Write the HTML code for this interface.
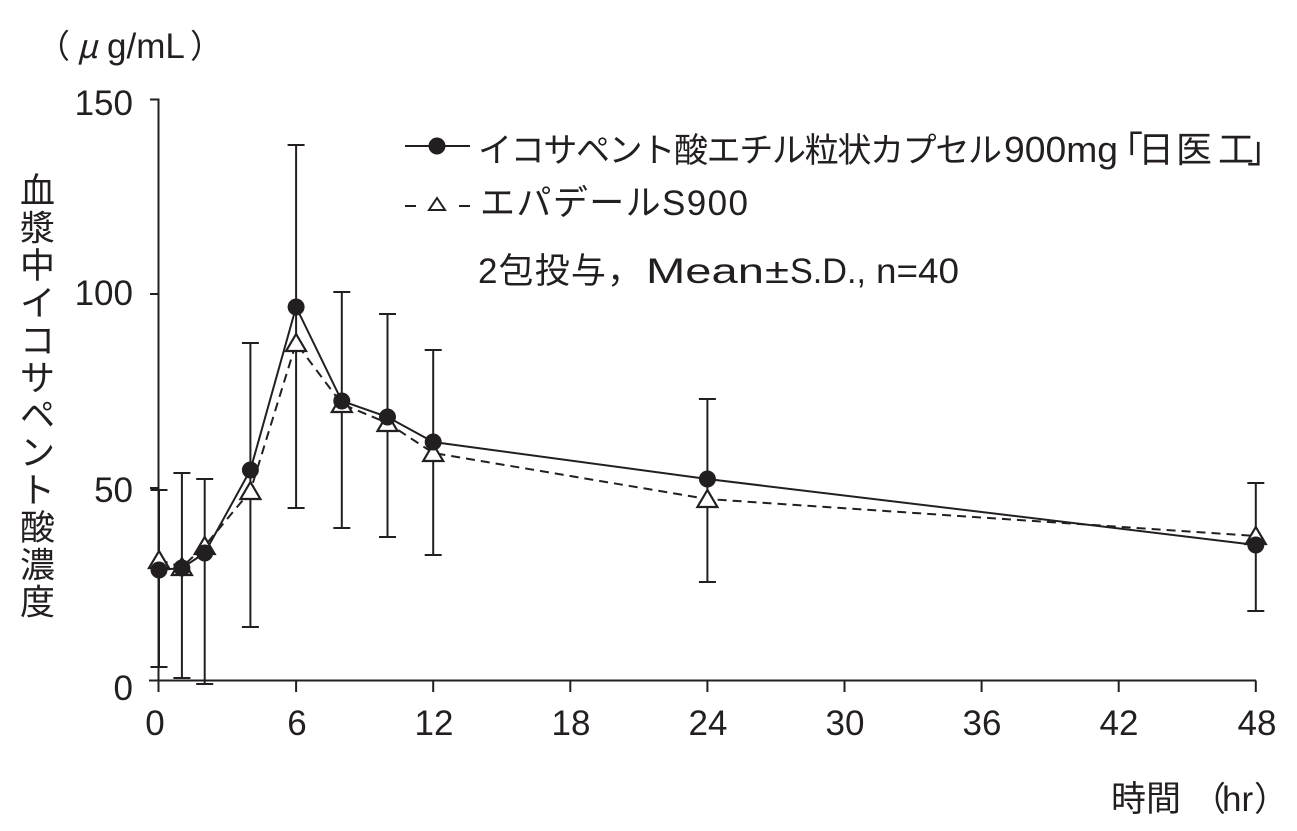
<!DOCTYPE html>
<html><head><meta charset="utf-8">
<style>
html,body{margin:0;padding:0;background:#fff;}
svg{display:block;}
text{fill:#231f20;}
</style></head>
<body>
<svg width="1297" height="831" viewBox="0 0 1297 831" xmlns="http://www.w3.org/2000/svg">
<g font-family="'Liberation Sans','Noto Sans CJK JP',sans-serif">
  <!-- unit label -->
  <text x="37" y="58" font-size="33" font-family="'Noto Sans CJK JP',sans-serif">（</text>
  <text x="77" y="58" font-size="33" font-family="'Noto Sans CJK JP',sans-serif" font-style="italic">μ</text>
  <text x="107" y="58" font-size="35">g/mL</text>
  <text x="190" y="58" font-size="33" font-family="'Noto Sans CJK JP',sans-serif">）</text>

  <!-- y-axis title vertical -->
  <g font-size="35" text-anchor="middle" font-family="'Noto Sans CJK JP',sans-serif">
    <text x="37.5" y="203">血</text>
    <text x="37.5" y="240.7">漿</text>
    <text x="37.5" y="278.1">中</text>
    <text x="37.5" y="315.5">イ</text>
    <text x="37.5" y="352.9">コ</text>
    <text x="37.5" y="390.3">サ</text>
    <text x="37.5" y="427.7">ペ</text>
    <text x="37.5" y="465.1">ン</text>
    <text x="37.5" y="502.5">ト</text>
    <text x="37.5" y="539.9">酸</text>
    <text x="37.5" y="577.3">濃</text>
    <text x="37.5" y="614.7">度</text>
  </g>

  <!-- y tick labels -->
  <g font-size="35" text-anchor="end">
    <text x="133" y="115">150</text>
    <text x="133" y="305">100</text>
    <text x="133" y="502">50</text>
    <text x="133" y="700">0</text>
  </g>

  <!-- x tick labels -->
  <g font-size="35" text-anchor="middle">
    <text x="155" y="735">0</text>
    <text x="297" y="735">6</text>
    <text x="434" y="735">12</text>
    <text x="571" y="735">18</text>
    <text x="708" y="735">24</text>
    <text x="845" y="735">30</text>
    <text x="982" y="735">36</text>
    <text x="1119" y="735">42</text>
    <text x="1257" y="735">48</text>
  </g>

  <!-- x-axis title -->
  <text x="1111" y="811" font-size="35" font-family="'Noto Sans CJK JP',sans-serif">時間</text>
  <text x="1192" y="811" font-size="34" font-family="'Noto Sans CJK JP',sans-serif">（</text>
  <text x="1222" y="811" font-size="35">hr</text>
  <text x="1254" y="811" font-size="34" font-family="'Noto Sans CJK JP',sans-serif">）</text>

  <!-- legend line 1 -->
  <text x="478" y="162" font-size="34" textLength="524" lengthAdjust="spacing">イコサペント酸エチル粒状カプセル</text>
  <text x="1004" y="162" font-size="36" textLength="114" lengthAdjust="spacingAndGlyphs">900mg</text>
  <g font-size="36" font-family="'Noto Sans CJK JP',sans-serif">
    <text x="1107" y="162">「</text>
    <text x="1156" y="162" text-anchor="middle">日</text>
    <text x="1194" y="162" text-anchor="middle">医</text>
    <text x="1236" y="162" text-anchor="middle">工</text>
    <text x="1247" y="162">」</text>
  </g>

  <!-- legend line 2 -->
  <text x="480" y="215" font-size="35" textLength="268" lengthAdjust="spacing">エパデールS900</text>

  <!-- annotation -->
  <text x="478" y="283" font-size="35" textLength="164" lengthAdjust="spacing">2包投与，</text>
  <text x="646" y="283" font-size="35" textLength="118" lengthAdjust="spacingAndGlyphs">Mean</text>
  <text x="765" y="283" font-size="35" textLength="24" lengthAdjust="spacingAndGlyphs">±</text>
  <text x="790" y="283" font-size="35" textLength="76" lengthAdjust="spacingAndGlyphs">S.D.,</text>
  <text x="876" y="283" font-size="35" textLength="83" lengthAdjust="spacingAndGlyphs">n=40</text>
</g>

<g stroke="#231f20" fill="none" stroke-width="2">
  <!-- legend symbols -->
  <line x1="405" y1="146" x2="470" y2="146"/>
  <circle cx="437" cy="146" r="8.5" fill="#231f20" stroke="none"/>
  <line x1="405" y1="206" x2="416" y2="206"/>
  <line x1="459" y1="206" x2="470" y2="206"/>
  <polygon points="437,198 429,210 445,210" fill="#fff"/>

  <!-- axes -->
  <polyline points="150,99.5 158.5,99.5 158.5,692"/>
  <line x1="150" y1="294" x2="158.5" y2="294"/>
  <line x1="150" y1="488" x2="158.5" y2="488"/>
  <line x1="149" y1="680.5" x2="1256" y2="680.5"/>
  <line x1="296.1" y1="680.5" x2="296.1" y2="692"/>
  <line x1="433.2" y1="680.5" x2="433.2" y2="692"/>
  <line x1="570.3" y1="680.5" x2="570.3" y2="692"/>
  <line x1="707.4" y1="680.5" x2="707.4" y2="692"/>
  <line x1="844.5" y1="680.5" x2="844.5" y2="692"/>
  <line x1="981.6" y1="680.5" x2="981.6" y2="692"/>
  <line x1="1118.7" y1="680.5" x2="1118.7" y2="692"/>
  <line x1="1255.8" y1="680.5" x2="1255.8" y2="692"/>

  <!-- error bars -->
  <path d="M159,490 V667 M150.5,490 H167.5 M150.5,667 H167.5
           M181.9,473 V678 M173.4,473 H190.4 M173.4,678 H190.4
           M204.7,479 V684 M196.2,479 H213.2 M196.2,684 H213.2
           M250.4,343 V627 M241.9,343 H258.9 M241.9,627 H258.9
           M296.1,145 V508 M287.6,145 H304.6 M287.6,508 H304.6
           M341.8,292 V528 M333.3,292 H350.3 M333.3,528 H350.3
           M387.5,314 V537 M379,314 H396 M379,537 H396
           M433.2,350 V555 M424.7,350 H441.7 M424.7,555 H441.7
           M707.4,399 V582 M698.9,399 H715.9 M698.9,582 H715.9
           M1255.8,483 V611 M1247.3,483 H1264.3 M1247.3,611 H1264.3"/>

  <!-- dashed series -->
  <polyline stroke-dasharray="9 6" points="159,560 181.9,567 204.7,546 250.4,491 296.1,343 341.8,404 387.5,423 433.2,453 707.4,499 1255.8,536"/>
  <!-- solid series -->
  <polyline points="159,570 181.9,568 204.7,553 250.4,470 296.1,307 341.8,401 387.5,417 433.2,442 707.4,479 1255.8,545"/>

  <!-- triangles -->
  <g fill="#fff" stroke-width="2.2">
    <polygon points="159,551 149,568 169,568"/>
    <polygon points="181.9,558 171.9,575 191.9,575"/>
    <polygon points="204.7,537 194.7,554 214.7,554"/>
    <polygon points="250.4,482 240.4,499 260.4,499"/>
    <polygon points="296.1,334 286.1,351 306.1,351"/>
    <polygon points="341.8,395 331.8,412 351.8,412"/>
    <polygon points="387.5,414 377.5,431 397.5,431"/>
    <polygon points="433.2,444 423.2,461 443.2,461"/>
    <polygon points="707.4,490 697.4,507 717.4,507"/>
    <polygon points="1255.8,527 1245.8,544 1265.8,544"/>
  </g>
</g>
<!-- circles -->
<g fill="#231f20">
  <circle cx="159" cy="570" r="8.5"/>
  <circle cx="181.9" cy="568" r="8.5"/>
  <circle cx="204.7" cy="553" r="8.5"/>
  <circle cx="250.4" cy="470" r="8.5"/>
  <circle cx="296.1" cy="307" r="8.5"/>
  <circle cx="341.8" cy="401" r="8.5"/>
  <circle cx="387.5" cy="417" r="8.5"/>
  <circle cx="433.2" cy="442" r="8.5"/>
  <circle cx="707.4" cy="479" r="8.5"/>
  <circle cx="1255.8" cy="545" r="8.5"/>
</g>
</svg>
</body></html>
